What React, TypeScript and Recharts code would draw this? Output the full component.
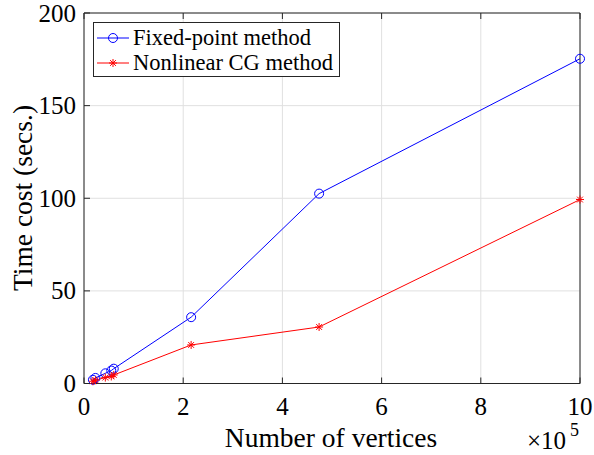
import { LineChart, Line, XAxis, YAxis, CartesianGrid } from 'recharts';

const vertices = [0.18, 0.23, 0.43, 0.55, 0.6, 2.16, 4.74, 10.0];
const fixedPoint = [2.0, 3.0, 5.5, 7.0, 8.0, 35.8, 102.5, 175.3];
const nonlinearCG = [1.2, 1.8, 3.2, 3.8, 4.6, 20.8, 30.5, 99.3];
const xTicks = [0, 2, 4, 6, 8, 10];
const yTicks = [0, 50, 100, 150, 200];

const data = vertices.map((v, i) => ({ v, fp: fixedPoint[i], cg: nonlinearCG[i] }));

const FONT = "'Liberation Serif', 'Times New Roman', serif";
const AXIS = '#262626';

function Circle(props: any) {
  const { cx, cy } = props;
  if (cx == null || cy == null) return null;
  return <circle cx={cx} cy={cy} r={4.5} fill="none" stroke="#0000ff" strokeWidth={1} />;
}

function Star(props: any) {
  const { cx, cy } = props;
  if (cx == null || cy == null) return null;
  const s = 4;
  const d = 2.9;
  return (
    <g stroke="#ff0000" strokeWidth={1}>
      <line x1={cx - s} y1={cy} x2={cx + s} y2={cy} />
      <line x1={cx} y1={cy - s} x2={cx} y2={cy + s} />
      <line x1={cx - d} y1={cy - d} x2={cx + d} y2={cy + d} />
      <line x1={cx - d} y1={cy + d} x2={cx + d} y2={cy - d} />
    </g>
  );
}

function LegendBox() {
  const rows = [
    { name: 'Fixed-point method', color: '#0000ff', Marker: Circle },
    { name: 'Nonlinear CG method', color: '#ff0000', Marker: Star },
  ];
  return (
    <div
      style={{
        position: 'absolute',
        left: 93,
        top: 22,
        border: `1px solid ${AXIS}`,
        background: '#fff',
        width: 247,
        height: 55,
        boxSizing: 'border-box',
        fontFamily: FONT,
        fontSize: 22.5,
        color: '#000',
        paddingTop: 2,
      }}
    >
      {rows.map((r) => (
        <div key={r.name} style={{ display: 'flex', alignItems: 'center', height: 25 }}>
          <svg width={38} height={20} style={{ marginLeft: 1 }}>
            <line x1={2} y1={10} x2={34} y2={10} stroke={r.color} strokeWidth={1} />
            <r.Marker cx={18} cy={10} />
          </svg>
          <span style={{ lineHeight: '25px' }}>{r.name}</span>
        </div>
      ))}
    </div>
  );
}

function TickLabel(props: any) {
  const { x, y, payload, textAnchor, anchor } = props;
  return (
    <text
      x={x}
      y={y}
      fontFamily={FONT}
      fontSize={25}
      fill="#000"
      textAnchor={anchor || textAnchor}
      dominantBaseline={anchor === 'end' ? 'central' : 'hanging'}
    >
      {payload.value}
    </text>
  );
}

function XLabel() {
  return (
    <g fontFamily={FONT} fill="#000">
      <text x={331} y={447} fontSize={27.5} textAnchor="middle">
        Number of vertices
      </text>
      <text x={527} y={449} fontSize={25}>
        ×10
      </text>
      <text x={570} y={436} fontSize={18}>
        5
      </text>
    </g>
  );
}

function YLabel() {
  return (
    <text
      x={32}
      y={198}
      fontFamily={FONT}
      fontSize={27.5}
      fill="#000"
      textAnchor="middle"
      transform="rotate(-90 32 198)"
    >
      Time cost (secs.)
    </text>
  );
}

export default function App() {
  return (
    <div style={{ position: 'absolute', left: 0, top: 0, width: 594, height: 455, background: '#fff' }}>
      <LineChart width={594} height={455} data={data} margin={{ top: 12, right: 13, bottom: 0, left: 0 }}>
        <CartesianGrid xAxisId="b" yAxisId="l" stroke="#e0e0e0" strokeWidth={1} />
        <XAxis
          xAxisId="b"
          dataKey="v"
          type="number"
          domain={[0, 10]}
          ticks={xTicks}
          interval={0}
          height={71.5}
          stroke={AXIS}
          tickSize={-6}
          tickMargin={20}
          tick={<TickLabel anchor="middle" />}
          label={<XLabel />}
        />
        <XAxis
          xAxisId="t"
          orientation="top"
          dataKey="v"
          type="number"
          domain={[0, 10]}
          ticks={xTicks}
          interval={0}
          height={1}
          stroke={AXIS}
          tickSize={-6}
          tick={() => <g />}
        />
        <YAxis
          yAxisId="l"
          type="number"
          domain={[0, 200]}
          ticks={yTicks}
          interval={0}
          width={84}
          stroke={AXIS}
          tickSize={-6}
          tickMargin={14}
          tick={<TickLabel anchor="end" />}
          label={<YLabel />}
        />
        <YAxis
          yAxisId="r"
          orientation="right"
          type="number"
          domain={[0, 200]}
          ticks={yTicks}
          interval={0}
          width={1}
          stroke={AXIS}
          tickSize={-6}
          tick={() => <g />}
        />
        <Line
          xAxisId="b"
          yAxisId="l"
          dataKey="fp"
          stroke="#0000ff"
          strokeWidth={1}
          dot={<Circle />}
          activeDot={false}
          isAnimationActive={false}
        />
        <Line
          xAxisId="b"
          yAxisId="l"
          dataKey="cg"
          stroke="#ff0000"
          strokeWidth={1}
          dot={<Star />}
          activeDot={false}
          isAnimationActive={false}
        />
      </LineChart>
      <LegendBox />
    </div>
  );
}
